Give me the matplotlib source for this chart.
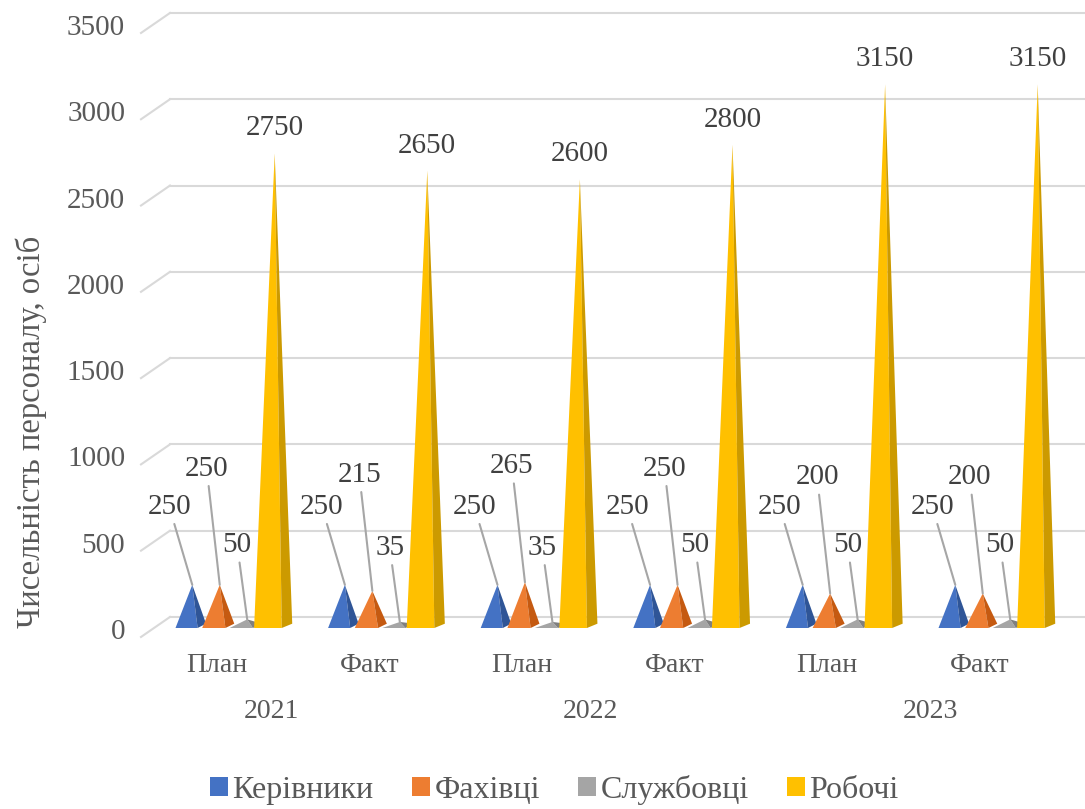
import matplotlib
matplotlib.use('Agg')
import matplotlib.pyplot as plt
from matplotlib.patches import Polygon, Patch

# staff numbers, plan vs fact by year
categories = ['План', 'Факт', 'План', 'Факт', 'План', 'Факт']
years = ['2021', '2022', '2023']
series = ['Керівники', 'Фахівці', 'Службовці', 'Робочі']
kerivnyky = [250, 250, 250, 250, 250, 250]
fakhivtsi = [250, 215, 265, 250, 200, 200]
sluzhbovtsi = [50, 35, 35, 50, 50, 50]
robochi = [2750, 2650, 2600, 2800, 3150, 3150]
y_ticks = [0, 500, 1000, 1500, 2000, 2500, 3000, 3500]

values = [kerivnyky, fakhivtsi, sluzhbovtsi, robochi]
front_colors = ['#4472C4', '#ED7D31', '#A5A5A5', '#FFC000']
side_colors = ['#2F5597', '#C55A11', '#7F7F7F', '#CC9A00']
shift = [-0.27, -0.09, 0.09, 0.27]
half_w = [0.1, 0.105, 0.105, 0.125]
label_off = [(-23, 78), (-13, 116), (-10, 74), (0, 25)]

plt.rcParams['font.family'] = ['Liberation Serif', 'DejaVu Serif']

fig = plt.figure(figsize=(10.85, 8.09), dpi=100)
ax = fig.add_axes([170 / 1085, 181 / 809, 915 / 1085, 604 / 809])
ax.set_xlim(-0.406, 5.59)
ax.set_ylim(0, 3500)
ax.axis('off')

back = 64   # back wall offset, value units
front = 52  # front edge offset, value units
grid_c = '#D9D9D9'
xt = ax.get_xaxis_transform()
yt = ax.get_yaxis_transform()

for t in y_ticks:
    ax.plot([0, 1], [t + back, t + back], transform=yt,
            color=grid_c, lw=1.5, clip_on=False, zorder=1)
    ax.plot([-0.0317, 0], [t - front, t + back], transform=yt,
            color=grid_c, lw=1.5, clip_on=False, zorder=1)
    ax.text(-0.049, t - 23, str(t), transform=yt,
            ha='right', va='center', fontsize=21, color='#595959')

# pyramids: lit front face + darker right face
for s in range(4):
    hw = half_w[s]
    for i in range(len(categories)):
        c = i + shift[s]
        v = values[s][i]
        apex = (c + 0.01, v)
        split = c + hw * 0.45
        fr = Polygon([(c - hw, 0), (split, 0), apex], closed=True,
                     facecolor=front_colors[s], edgecolor='none', zorder=3 + s)
        sd = Polygon([(split, 0), (c + hw, 25), apex], closed=True,
                     facecolor=side_colors[s], edgecolor='none', zorder=3 + s)
        ax.add_patch(fr)
        ax.add_patch(sd)
        dx, dy = label_off[s]
        if s < 3:
            ax.annotate(str(v), xy=apex, xytext=(dx, dy), textcoords='offset pixels',
                        ha='center', va='center', fontsize=21, color='#404040',
                        arrowprops=dict(arrowstyle='-', color='#A6A6A6', lw=1.5,
                                        shrinkA=1, shrinkB=0),
                        annotation_clip=False, zorder=10)
        else:
            ax.annotate(str(v), xy=apex, xytext=(dx, dy), textcoords='offset pixels',
                        ha='center', va='center', fontsize=21, color='#404040',
                        annotation_clip=False, zorder=10)

# category and year labels
for i, name in enumerate(categories):
    ax.text(i - 0.1, -0.0613, name, transform=xt, ha='center', va='center',
            fontsize=20, color='#595959')
year_x = [0.26, 2.35, 4.58]
for x, y in zip(year_x, years):
    ax.text(x, -0.139, y, transform=xt, ha='center', va='center',
            fontsize=20, color='#595959')

fig.text(0.029, 0.466, 'Чисельність персоналу, осіб', rotation=90,
         ha='center', va='center', fontsize=23.5, color='#595959')

handles = [Patch(facecolor=c, edgecolor='none') for c in front_colors]
fig.legend(handles, series, loc='center', bbox_to_anchor=(0.511, 0.0235), ncol=4,
           frameon=False, fontsize=23, handlelength=0.55, handleheight=0.55,
           handletextpad=0.15, columnspacing=1.2, labelcolor='#595959')

fig.savefig('out.png', dpi=100)
